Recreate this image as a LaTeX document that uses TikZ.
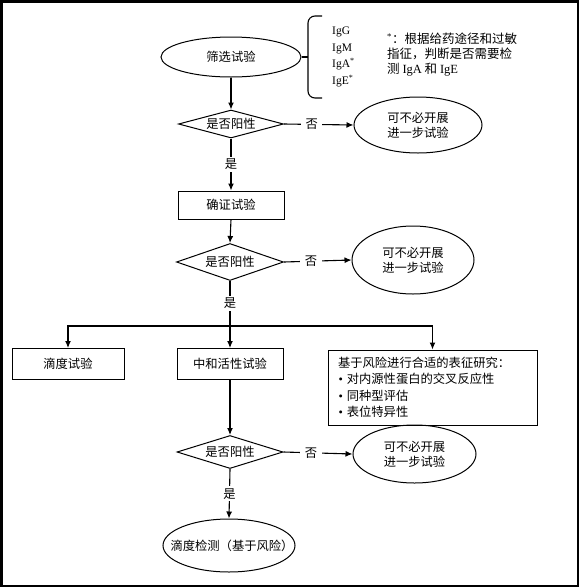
\documentclass[tikz,border=0pt]{standalone}
\usepackage{fontspec}
\setmainfont{Liberation Serif}
\newfontfamily\cjk{Noto Sans CJK SC}
\usetikzlibrary{shapes.geometric,arrows.meta,calc}
\begin{document}
\begin{tikzpicture}[x=1pt,y=-1pt,
  every node/.style={font=\cjk\fontsize{12.3}{15}\selectfont, inner sep=0pt},
  shp/.style={draw, line width=1pt},
  ell/.style={shp, ellipse, align=center},
  dia/.style={shp, diamond, aspect=3.75},
  boxs/.style={shp, rectangle},
  ln/.style={line width=1.1pt},
  arr/.style={line width=1.1pt, -{Latex[length=7pt,width=6pt]}},
  lbl/.style={fill=white, inner xsep=4.5pt, inner ysep=2pt}]
\useasboundingbox (0,0) rectangle (579,587);
\draw[line width=2.5pt] (1.25,1.25) rectangle (577.75,585.75);

% screening
\node[ell, minimum width=140, minimum height=40] (s1) at (231,57) {筛选试验};
\coordinate (bm) at (308,57);
\draw[ln] (s1.east) -- (bm);
\draw[ln, rounded corners=7pt] (322,16) -- (308,16) -- (308,98) -- (322,98);
\node[anchor=west, align=left, font=\rmfamily\fontsize{11.5}{16.7}\selectfont] (ig) at (332,57)
  {IgG\\IgM\\IgA\textsuperscript{*}\\IgE\textsuperscript{*}};
\node[anchor=west, align=left, font=\cjk\fontsize{12.5}{15}\selectfont] (note) at (387,55)
  {{\rmfamily\textsuperscript{*}}：根据给药途径和过敏\\指征，判断是否需要检\\测 {\rmfamily IgA} 和 {\rmfamily IgE}};

\node[dia, minimum width=105, minimum height=28] (d1) at (231,124) {是否阳性};
\node[ell, minimum width=128, minimum height=56] (e1) at (418,125) {可不必开展\\进一步试验};
\draw[arr] (s1.south) -- (d1.north);
\draw[arr] (d1.east) -- node[lbl, pos=0.4] {否} (e1.west);

% confirm
\node[boxs, minimum width=106, minimum height=28] (b1) at (231,205) {确证试验};
\draw[arr] (d1.south) -- node[lbl] {是} (b1.north);

\node[dia, minimum width=107, minimum height=37] (d2) at (230,262) {是否阳性};
\node[ell, minimum width=122, minimum height=68] (e2) at (413,260) {可不必开展\\进一步试验};
\draw[arr] (b1.south) -- (d2.north);
\draw[arr] (d2.east) -- node[lbl, pos=0.4] {否} (e2.west);

% branches
\coordinate (br) at (230,326);
\node[boxs, minimum width=112, minimum height=31] (t1) at (68,364) {滴度试验};
\node[boxs, minimum width=106, minimum height=31] (n1) at (230,364) {中和活性试验};
\node[boxs, minimum width=209, minimum height=75, text width=189, inner xsep=10pt, align=left,
      font=\cjk\fontsize{12.3}{16.5}\selectfont] (r1) at (432.5,387.5)
  {基于风险进行合适的表征研究：\\
   \hspace*{0.5pt}{\rmfamily\textbullet}\hspace{4pt}对内源性蛋白的交叉反应性\\
   \hspace*{0.5pt}{\rmfamily\textbullet}\hspace{4pt}同种型评估\\
   \hspace*{0.5pt}{\rmfamily\textbullet}\hspace{4pt}表位特异性};
\draw[arr] (d2.south) -- node[lbl] {是} (br) -- (n1.north);
\draw[arr] (br) -| (t1.north);
\draw[arr] (br) -| (r1.north);

% neutralising
\node[dia, minimum width=106, minimum height=33] (d3) at (230,452) {是否阳性};
\node[ell, minimum width=123, minimum height=58] (e3) at (414.5,454) {可不必开展\\进一步试验};
\draw[arr] (n1.south) -- (d3.north);
\draw[arr] (d3.east) -- node[lbl, pos=0.4] {否} (e3.west);

\node[ell, minimum width=132, minimum height=53] (e4) at (229,545.5) {\makebox[0pt]{\hspace*{6pt}滴度检测（基于风险）}};
\draw[arr] (d3.south) -- node[lbl] {是} (e4.north);
\end{tikzpicture}
\end{document}
